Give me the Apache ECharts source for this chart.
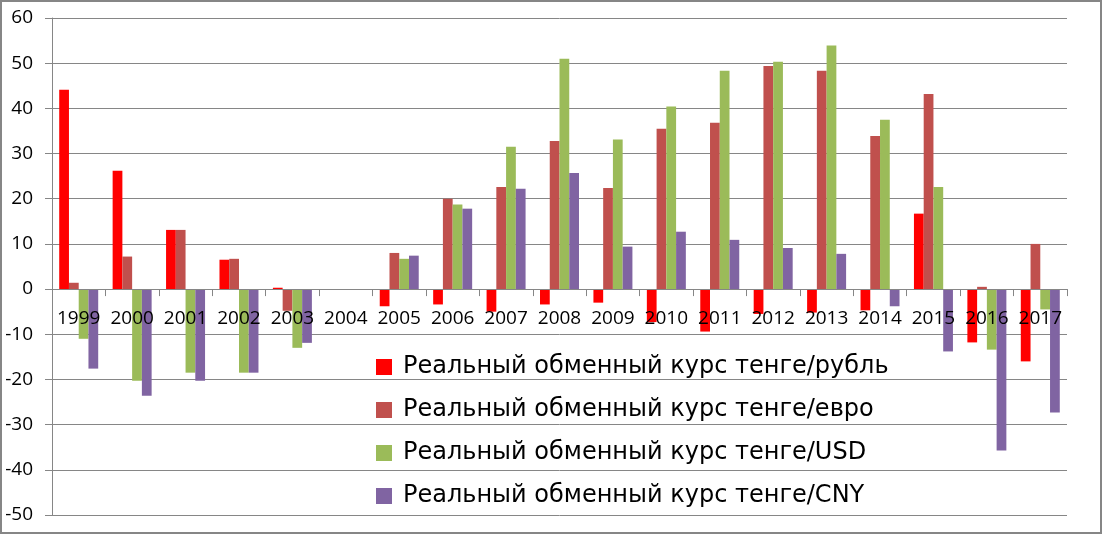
<!DOCTYPE html>
<html>
<head>
<meta charset="utf-8">
<script src="https://cdn.jsdelivr.net/npm/echarts@6/dist/echarts.min.js"></script>
<style>
html,body{margin:0;padding:0;background:#fff;}
#chart{width:1103px;height:535px;}
</style>
</head>
<body>
<div id="chart"></div>
<script>
const categories = ['1999','2000','2001','2002','2003','2004','2005','2006','2007','2008','2009','2010','2011','2012','2013','2014','2015','2016','2017'];
const seriesNames = [
  'Реальный обменный курс тенге/рубль',
  'Реальный обменный курс тенге/евро',
  'Реальный обменный курс тенге/USD',
  'Реальный обменный курс тенге/CNY'
];
const rubValues = [44.1, 26.2, 13.1, 6.5, 0.3, 0, -3.8, -3.4, -5.0, -3.4, -3.0, -7.3, -9.4, -5.5, -5.2, -4.7, 16.7, -11.8, -16.0];
const eurValues = [1.4, 7.2, 13.1, 6.7, -4.8, 0, 8.0, 20.0, 22.6, 32.8, 22.4, 35.5, 36.8, 49.4, 48.3, 33.9, 43.2, 0.5, 10.0];
const usdValues = [-11.0, -20.3, -18.5, -18.5, -13.0, 0, 6.7, 18.7, 31.5, 51.0, 33.1, 40.4, 48.3, 50.3, 53.9, 37.5, 22.6, -13.4, -4.5];
const cnyValues = [-17.6, -23.6, -20.3, -18.5, -11.9, 0, 7.4, 17.8, 22.2, 25.7, 9.4, 12.7, 10.9, 9.1, 7.8, -3.8, -13.8, -35.7, -27.3];
const colors = ['#FF0000', '#C0504D', '#9BBB59', '#8064A2'];
const yMin = -50, yMax = 60, yStep = 10;

const allValues = [rubValues, eurValues, usdValues, cnyValues];
const W = 1103, H = 535;
const gridTop = 18, gridBottom = 20;
const plotH = H - gridTop - gridBottom;
const zeroOffset = -plotH * (0 - yMin) / (yMax - yMin);

const chart = echarts.init(document.getElementById('chart'), null, {renderer: 'canvas'});
const fontFam = '"Open Sans", "Noto Sans", sans-serif';
chart.setOption({
  animation: false,
  color: colors,
  graphic: [{
    type: 'rect',
    shape: {x: 1, y: 1, width: 1100, height: 532},
    style: {fill: 'none', stroke: '#868686', lineWidth: 2},
    z: 0
  }],
  grid: {left: 52, right: 36, top: gridTop, bottom: gridBottom, containLabel: false},
  legend: {
    orient: 'vertical',
    left: 376,
    top: 355,
    padding: 0,
    itemWidth: 16,
    itemHeight: 16,
    itemGap: 19,
    icon: 'rect',
    textStyle: {fontFamily: '"DejaVu Sans", sans-serif', fontSize: 24, color: '#000', lineHeight: 24, padding: [0, 0, 0, 6]},
    data: seriesNames
  },
  xAxis: {
    type: 'category',
    data: categories,
    position: 'bottom',
    offset: zeroOffset,
    z: 3,
    axisLine: {onZero: false, lineStyle: {color: '#868686', width: 1}},
    axisTick: {show: true, length: 7, lineStyle: {color: '#868686'}},
    axisLabel: {fontFamily: fontFam, fontSize: 19, color: '#000', margin: 20, interval: 0}
  },
  yAxis: {
    type: 'value',
    min: yMin, max: yMax, interval: yStep,
    axisLine: {show: true, lineStyle: {color: '#868686', width: 1}},
    axisTick: {show: true, length: 7, lineStyle: {color: '#868686'}},
    axisLabel: {fontFamily: fontFam, fontSize: 19, color: '#000', margin: 19},
    splitLine: {show: true, lineStyle: {color: '#868686', width: 1}}
  },
  series: seriesNames.map((n, i) => ({
    name: n,
    type: 'bar',
    data: allValues[i],
    barGap: '0%',
    barCategoryGap: '27%',
    itemStyle: {color: colors[i]}
  }))
});
</script>
</body>
</html>
